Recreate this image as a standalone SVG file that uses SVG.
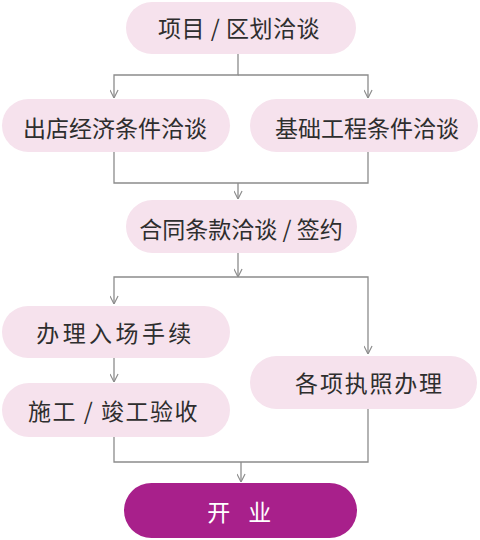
<svg xmlns="http://www.w3.org/2000/svg" width="480" height="540" viewBox="0 0 480 540">
<defs>
<style>
.n{fill:#f6e2ed}
.t{font-family:"Noto Sans CJK SC","Noto Sans",sans-serif;font-size:23px;fill:#2e2e2e;text-anchor:middle}
.c{fill:none;stroke:#8c8c8c;stroke-width:1.3}
</style>
<marker id="a" viewBox="0 0 10 10" refX="10" refY="5" markerWidth="9" markerHeight="9" markerUnits="userSpaceOnUse" orient="auto">
<path d="M1,0.5 L10,5 L1,9.5" fill="none" stroke="#8c8c8c" stroke-width="1.3"/>
</marker>
</defs>
<rect width="480" height="540" fill="#fff"/>
<g id="connectors" class="c">
<path d="M238 54 V75 H114 V98" marker-end="url(#a)"/>
<path d="M238 75 H368 V98" marker-end="url(#a)"/>
<path d="M114 152 V183 H368 V152"/>
<path d="M238 183 V199" marker-end="url(#a)"/>
<path d="M238 253 V277" marker-end="url(#a)"/>
<path d="M238 277 H114 V304" marker-end="url(#a)"/>
<path d="M238 277 H368 V354" marker-end="url(#a)"/>
<path d="M114 358 V382" marker-end="url(#a)"/>
<path d="M114 437 V462 H368 V409"/>
<path d="M241 462 V482" marker-end="url(#a)"/>
</g>
<g id="n1"><rect class="n" x="126" y="2" width="230" height="52" rx="26"/><text class="t" x="239" y="37" letter-spacing="0.5">项目 / 区划洽谈</text></g>
<g id="n2"><rect class="n" x="2" y="99" width="228" height="53" rx="26.5"/><text class="t" x="115" y="137">出店经济条件洽谈</text></g>
<g id="n3"><rect class="n" x="250" y="99" width="228" height="53" rx="26.5"/><text class="t" x="367" y="137">基础工程条件洽谈</text></g>
<g id="n4"><rect class="n" x="126" y="200" width="231" height="53" rx="26.5"/><text class="t" x="241" y="238">合同条款洽谈 / 签约</text></g>
<g id="n5"><rect class="n" x="2" y="306" width="228" height="52" rx="26"/><text class="t" x="115.5" y="342" letter-spacing="3.4">办理入场手续</text></g>
<g id="n6"><rect class="n" x="250" y="356" width="227" height="53" rx="26.5"/><text class="t" x="369.5" y="392" letter-spacing="1.8">各项执照办理</text></g>
<g id="n7"><rect class="n" x="2" y="383" width="228" height="54" rx="27"/><text class="t" x="113.5" y="420" letter-spacing="1.5">施工 / 竣工验收</text></g>
<g id="n8"><rect x="124" y="483" width="233" height="55" rx="27.5" fill="#a8208b"/><text class="t" x="242.5" y="521" style="fill:#fff" letter-spacing="6.5">开 业</text></g>
</svg>
